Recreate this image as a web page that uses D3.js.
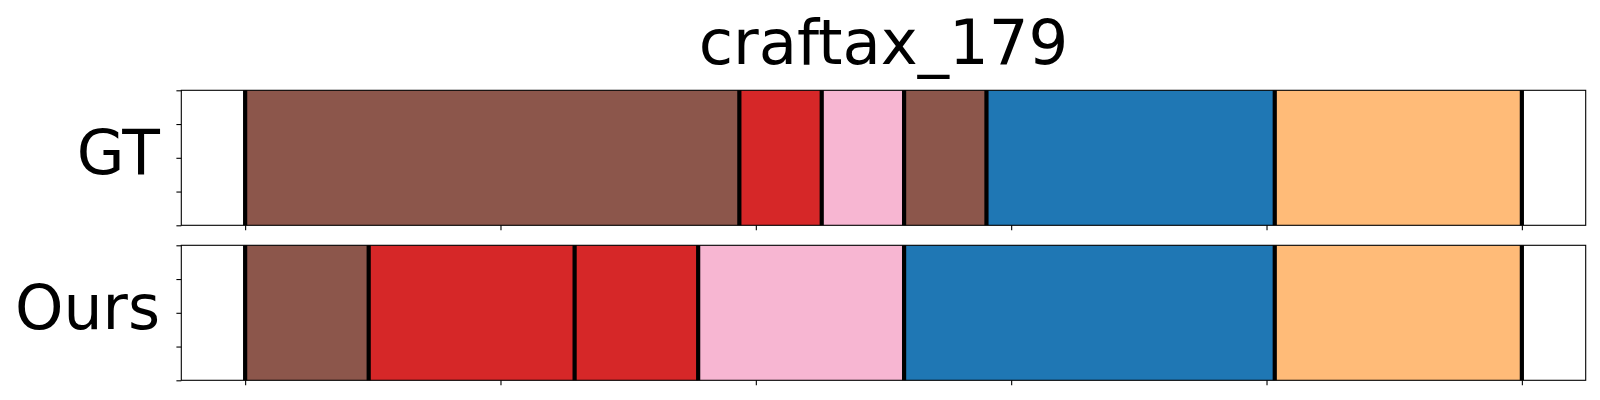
<!DOCTYPE html>
<html>
<head>
<meta charset="utf-8">
<script src="https://cdn.jsdelivr.net/npm/d3@7"></script>
<style>
  html, body { margin: 0; padding: 0; background: #fff; }
  svg { display: block; font-family: "DejaVu Sans", sans-serif; }
</style>
</head>
<body>
<svg id="chart" width="1600" height="400"></svg>
<script>
// ---- data ----
const title = "craftax_179";
const rowLabels = ["GT", "Ours"];
// segment lengths (in steps) and their action colours, per row
const gtLengths = [12, 2, 2, 2, 7, 6];
const gtColors = ["#8c564b", "#d62728", "#f7b6d2", "#8c564b", "#1f77b4", "#ffbb78"];
const oursLengths = [3, 5, 3, 5, 9, 6];
const oursColors = ["#8c564b", "#d62728", "#d62728", "#f7b6d2", "#1f77b4", "#ffbb78"];
const xTicks = [0, 0.2, 0.4, 0.6, 0.8, 1.0];
const yTicks = [0, 0.25, 0.5, 0.75, 1.0];

const rows = [
  { label: rowLabels[0], lengths: gtLengths, colors: gtColors },
  { label: rowLabels[1], lengths: oursLengths, colors: oursColors }
];

// ---- layout ----
const svg = d3.select("#chart");
const left = 181.3, right = 1585.7;
const panels = [{ top: 90.3, bottom: 225.3 }, { top: 245.3, bottom: 380.3 }];

const x = d3.scaleLinear().domain([-0.05, 1.05]).range([left, right]);

svg.append("text")
  .attr("x", (left + right) / 2)
  .attr("y", 63.5)
  .attr("text-anchor", "middle")
  .attr("font-size", "62.5px")
  .attr("fill", "#000")
  .text(title);

rows.forEach((row, i) => {
  const p = panels[i];
  const y = d3.scaleLinear().domain([0, 1]).range([p.bottom, p.top]);
  const total = d3.sum(row.lengths);
  let acc = 0;
  const segs = row.lengths.map((len, k) => {
    const s = { start: acc / total, end: (acc + len) / total, color: row.colors[k] };
    acc += len;
    return s;
  });
  const bounds = [0].concat(segs.map(s => s.end));

  const g = svg.append("g");

  g.selectAll("rect.seg").data(segs).enter().append("rect")
    .attr("class", "seg")
    .attr("x", d => x(d.start))
    .attr("width", d => x(d.end) - x(d.start))
    .attr("y", y(1))
    .attr("height", y(0) - y(1))
    .attr("fill", d => d.color);

  g.selectAll("line.bound").data(bounds).enter().append("line")
    .attr("class", "bound")
    .attr("x1", d => x(d)).attr("x2", d => x(d))
    .attr("y1", y(0)).attr("y2", y(1))
    .attr("stroke", "#000")
    .attr("stroke-width", 4.2);

  // axes
  const xAxis = d3.axisBottom(x).tickValues(xTicks).tickFormat("").tickSizeOuter(0).tickSizeInner(4.9);
  const yAxis = d3.axisLeft(y).tickValues(yTicks).tickFormat("").tickSizeOuter(0).tickSizeInner(4.9);
  const gx = g.append("g").attr("transform", `translate(0,${p.bottom})`).call(xAxis);
  const gy = g.append("g").attr("transform", `translate(${left},0)`).call(yAxis);
  [gx, gy].forEach(a => {
    a.select(".domain").remove();
    a.selectAll(".tick line").attr("stroke", "#000").attr("stroke-width", 1.1);
  });

  // frame
  g.append("rect")
    .attr("x", left).attr("y", p.top)
    .attr("width", right - left).attr("height", p.bottom - p.top)
    .attr("fill", "none")
    .attr("stroke", "#000")
    .attr("stroke-width", 1.1);

  g.append("text")
    .attr("x", 160)
    .attr("y", (p.top + p.bottom) / 2 + 16.5)
    .attr("text-anchor", "end")
    .attr("font-size", "61.6px")
    .attr("fill", "#000")
    .text(row.label);
});
</script>
</body>
</html>
